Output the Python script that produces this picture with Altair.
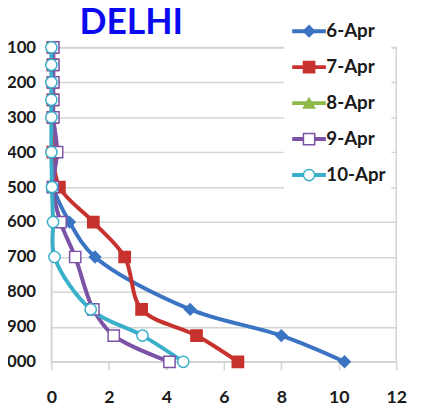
import altair as alt
import pandas as pd

# ---- data ----
levels = [100, 150, 200, 250, 300, 400, 500, 600, 700, 850, 925, 1000]
series_names = ["6-Apr", "7-Apr", "8-Apr", "9-Apr", "10-Apr"]
apr6 = [0.05, 0.05, 0.05, 0.05, 0.05, 0.05, 0.08, 0.63, 1.52, 4.83, 8.0, 10.2]
apr7 = [0.05, 0.05, 0.05, 0.05, 0.05, 0.05, 0.28, 1.46, 2.55, 3.14, 5.05, 6.49]
apr8 = []  # not visible in the reference
apr9 = [0.07, 0.07, 0.07, 0.07, 0.07, 0.2, 0.05, 0.32, 0.83, 1.46, 2.17, 4.11]
apr10 = [0.0, 0.0, 0.0, 0.0, 0.0, 0.0, 0.02, 0.06, 0.11, 1.37, 3.17, 4.59]

chart_title = "DELHI"
line_colors = ["#3A74C2", "#C8322E", "#8DB84A", "#7B52A6", "#3AAFC9"]
marker_fills = ["#3A74C2", "#C8322E", "#8DB84A", "#FFFFFF", "#FFFFFF"]
marker_shapes = ["diamond", "square", "triangle-up", "square", "circle"]

x_ticks = [0, 2, 4, 6, 8, 10, 12]
y_ticks = [100, 200, 300, 400, 500, 600, 700, 800, 900, 1000]

rows = []
for name, vals in zip(series_names, [apr6, apr7, apr8, apr9, apr10]):
    for lev, v in zip(levels, vals):
        rows.append({"series": name, "level": lev, "value": v})
df = pd.DataFrame(rows)

W, H = 350, 319
FONT = "Lato"
GRAY = "#d4d4d4"

LEG_X, LEG_Y = 236, -31
LEG_FONT = 19

line_legend = alt.Legend(
    orient="none", legendX=LEG_X, legendY=LEG_Y, title=None,
    values=series_names, symbolType="M-3,0H3", symbolSize=130,
    symbolStrokeWidth=4, symbolOffset=11, labelColor="transparent", labelFont=FONT,
    labelFontSize=LEG_FONT, labelFontWeight="bold", fillColor="white",
    padding=5, rowPadding=16.5, labelOffset=8,
)
marker_legend = alt.Legend(
    orient="none", legendX=LEG_X, legendY=LEG_Y, title=None,
    symbolSize=130, symbolStrokeWidth=1.5, symbolOffset=11, labelColor="#1a1a1a",
    labelFont=FONT, labelFontSize=LEG_FONT, labelFontWeight="bold",
    padding=5, rowPadding=16.5, labelOffset=8,
)

# tick marks along the bottom edge (no labels)
x_tick_axis = alt.Axis(orient="bottom", values=x_ticks, title=None, grid=False,
                       tickSize=8, tickColor=GRAY, tickWidth=1.5,
                       domainColor=GRAY, domainWidth=1.5, labels=False)
# tick labels, set lower as in the reference
x_label_axis = alt.Axis(orient="bottom", values=x_ticks, title=None, grid=False,
                        ticks=False, tickSize=0, domain=False, offset=27,
                        labelFont=FONT, labelFontSize=18, labelFontWeight="bold",
                        labelColor="#1a1a1a", labelPadding=0, labelFlush=False)
y_axis = alt.Axis(values=y_ticks, grid=True, gridColor=GRAY,
                  gridWidth=1.5, ticks=False, tickSize=0, domainColor=GRAY,
                  domainWidth=1.5, labelFont=FONT, labelFontSize=17,
                  labelFontWeight="bold", labelColor="#1a1a1a",
                  labelPadding=16, labelOverlap=False,
                  title=chart_title, titleAngle=0, titleX=28, titleY=-14,
                  titleAlign="left", titleBaseline="alphabetic",
                  titleFont=FONT, titleFontSize=36, titleFontWeight="bold",
                  titleColor="#0A0AF0")
x_scale = alt.Scale(domain=[0, 12], nice=False, zero=False)
y_scale = alt.Scale(domain=[100, 1000], reverse=True, nice=False, zero=False)

lines = alt.Chart(df).mark_line(strokeWidth=4, interpolate="catmull-rom").encode(
    x=alt.X("value:Q", scale=x_scale, axis=x_tick_axis),
    y=alt.Y("level:Q", scale=y_scale, axis=y_axis),
    color=alt.Color("series:N",
                    scale=alt.Scale(domain=series_names + ["-"], range=line_colors + ["#ffffff"]),
                    legend=line_legend),
    order=alt.Order("level:Q"),
)

points = alt.Chart(df).mark_point(size=130, strokeWidth=1.5, opacity=1).encode(
    x=alt.X("value:Q", scale=x_scale, axis=x_label_axis),
    y=alt.Y("level:Q", scale=y_scale, axis=y_axis),
    shape=alt.Shape("series:N", scale=alt.Scale(domain=series_names, range=marker_shapes),
                    legend=marker_legend),
    fill=alt.Fill("series:N", scale=alt.Scale(domain=series_names, range=marker_fills),
                  legend=marker_legend),
    stroke=alt.Stroke("series:N", scale=alt.Scale(domain=series_names, range=line_colors),
                      legend=marker_legend),
)

chart = alt.layer(lines, points).resolve_axis(x="independent").properties(
    width=W, height=H,
    autosize=alt.AutoSizeParams(type="none"),
    padding={"left": 44, "top": 37, "right": 18, "bottom": 52},
).configure_view(stroke=GRAY, strokeWidth=1.5)

chart.save("out.html", embed_options={"renderer": "svg", "actions": False})
